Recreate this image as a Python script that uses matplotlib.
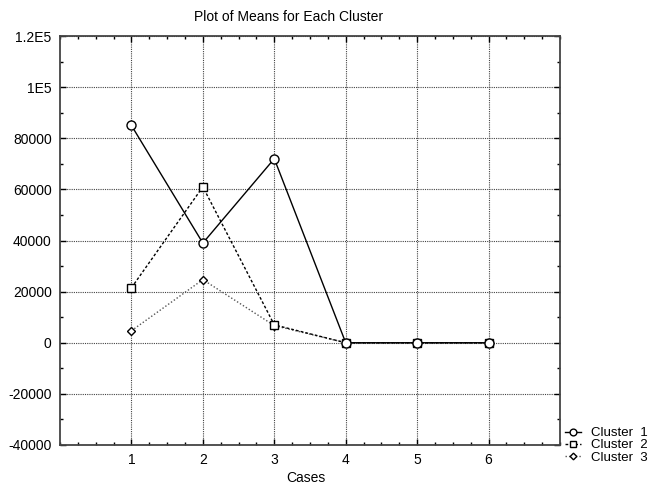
import matplotlib
matplotlib.use("Agg")
import matplotlib.pyplot as plt
from matplotlib.ticker import MultipleLocator

plt.rcParams['font.family'] = ['Liberation Sans', 'DejaVu Sans']

cases = [1, 2, 3, 4, 5, 6]
cluster1 = [85000, 39000, 72000, 0, 0, 0]
cluster2 = [21500, 61000, 7000, 0, 0, 0]
cluster3 = [4700, 24700, 6700, 0, 0, 0]
yticks = [-40000, -20000, 0, 20000, 40000, 60000, 80000, 100000, 120000]
ytick_labels = ["-40000", "-20000", "0", "20000", "40000", "60000", "80000", "1E5", "1.2E5"]

fig = plt.figure(figsize=(6.54, 4.88), dpi=100)
ax = fig.add_axes([60 / 654, 1 - 445 / 488, 500 / 654, 409 / 488])

ax.plot(cases, cluster1, '-', color='black', lw=1, marker='o', ms=6.5,
        mfc='white', mec='black', label='Cluster  1', zorder=5)
ax.plot(cases, cluster2, color='black', lw=1, ls=(0, (2, 1.5)), marker='s', ms=6,
        mfc='white', mec='black', label='Cluster  2', zorder=4)
ax.plot(cases, cluster3, color='#555555', lw=1, ls=(0, (1, 1.5)), marker='D', ms=4.5,
        mfc='white', mec='black', label='Cluster  3', zorder=3)

ax.set_xlim(0, 7)
ax.set_ylim(-40000, 120000)
ax.set_xticks(cases)
ax.set_yticks(yticks)
ax.set_yticklabels(ytick_labels)
ax.xaxis.set_minor_locator(MultipleLocator(0.25))
ax.yaxis.set_minor_locator(MultipleLocator(10000))
ax.tick_params(which='both', direction='in', top=True, right=True, labelsize=10, color='black')
ax.tick_params(which='major', length=4, width=1, pad=6)
ax.tick_params(which='minor', length=2.5, width=1)
ax.grid(True, which='major', ls=(0, (1, 1)), color='#444444', lw=0.8)
for s in ax.spines.values():
    s.set_linewidth(1.3)
    s.set_color('#444444')

fig.text(289 / 654, 1 - 17 / 488, "Plot of Means for Each Cluster", ha='center', va='center', fontsize=10)
fig.text(306 / 654, 1 - 478 / 488, "Cases", ha='center', va='center', fontsize=10)

leg = ax.legend(loc='upper left', bbox_to_anchor=(1.01, 18 / 409),
                frameon=False, fontsize=9.5, handlelength=1.25, handletextpad=0.75,
                labelspacing=0.0, borderaxespad=0, borderpad=0, markerscale=0.75)

fig.savefig("out.png", dpi=100)
